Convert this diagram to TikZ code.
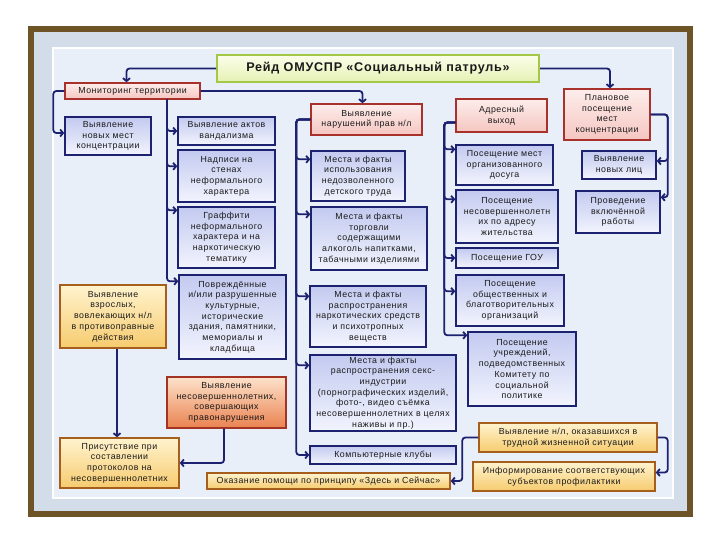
\documentclass[tikz,border=0pt]{standalone}
\usepackage{fontspec}
\setmainfont{Liberation Sans}[LetterSpace=6]
\usetikzlibrary{arrows.meta}
\definecolor{navy}{HTML}{1C2270}
\definecolor{framebrown}{HTML}{6E5326}
\definecolor{backblue}{HTML}{D3DDEA}
\definecolor{panelblue}{HTML}{E9EFF8}
\definecolor{lavtop}{HTML}{C3CAF0}
\definecolor{lavbot}{HTML}{F2F4FD}
\definecolor{pinkedge}{HTML}{A8322B}
\definecolor{pinktop}{HTML}{FDEDEB}
\definecolor{pinkbot}{HTML}{F5C6C1}
\definecolor{ochreedge}{HTML}{A65E1C}
\definecolor{ochretop}{HTML}{FFF3CE}
\definecolor{ochrebot}{HTML}{F6CB6E}
\definecolor{rustedge}{HTML}{A33322}
\definecolor{rusttop}{HTML}{FDE2CB}
\definecolor{rustbot}{HTML}{EA8250}
\definecolor{limeedge}{HTML}{A3C845}
\definecolor{limetop}{HTML}{FBFEEA}
\definecolor{limebot}{HTML}{E5F1B4}
\definecolor{ink}{HTML}{1A1A1A}

\begin{document}
\begin{tikzpicture}[x=1pt, y=-1pt,
  >={Straight Barb[length=3pt, width=7pt]},
  cell/.style={line width=1.4pt, align=center, inner sep=1.5pt, text=ink,
    font=\fontsize{8.8}{10.7}\selectfont},
  boxsize/.style 2 args={minimum width=#1pt, minimum height=#2pt},
  bluecell/.style={cell, draw=navy, top color=lavtop, bottom color=lavbot},
  pinkcell/.style={cell, draw=pinkedge, top color=pinktop, bottom color=pinkbot},
  ochrecell/.style={cell, draw=ochreedge, top color=ochretop, bottom color=ochrebot},
  rustcell/.style={cell, draw=rustedge, top color=rusttop, bottom color=rustbot},
  link/.style={->, draw=navy, line width=1.8pt, rounded corners=3pt},
]
\useasboundingbox (0,0) rectangle (720,540);

% Frame
\fill[white] (0,0) rectangle (720,540);
\draw[framebrown, line width=6.5pt, fill=backblue] (31,29) rectangle (690,514);
\draw[white, line width=1.5pt, fill=panelblue] (53,48) rectangle (673,498);

% Title
\node[cell, draw=limeedge, line width=2pt, top color=limetop, bottom color=limebot,
      boxsize={322}{27}, font=\fontsize{12.6}{14}\selectfont\bfseries]
  (title) at (378,68.5) {Рейд ОМУСПР «Социальный патруль»};

% =============================================
% Left: monitoring
% =============================================
\node[pinkcell, boxsize={135}{16}] (mon) at (132.5,91) {Мониторинг территории};
\node[bluecell, boxsize={86}{38}] (newpl) at (108,136)
  {Выявление\\новых мест\\концентрации};
\node[bluecell, boxsize={97}{28}] (vand) at (226.5,131)
  {Выявление актов\\вандализма};
\node[bluecell, boxsize={97}{52}] (nadp) at (226.5,176)
  {Надписи на\\стенах\\неформального\\характера};
\node[bluecell, boxsize={97}{61}] (graf) at (226.5,237.5)
  {Граффити\\неформального\\характера и на\\наркотическую\\тематику};
\node[bluecell, boxsize={107}{84}] (povr) at (232.5,317)
  {Повреждённые\\и/или разрушенные\\культурные,\\исторические\\здания, памятники,\\мемориалы и\\кладбища};
\node[ochrecell, boxsize={106}{63}] (adult) at (113,316.5)
  {Выявление\\взрослых,\\вовлекающих н/л\\в противоправные\\действия};
\node[rustcell, boxsize={119}{51}] (minor) at (226.5,402.5)
  {Выявление\\несовершеннолетних,\\совершающих\\правонарушения};
\node[ochrecell, boxsize={119}{50}] (prot) at (119.5,463)
  {Присутствие при\\составлении\\протоколов на\\несовершеннолетних};

% =============================================
% Middle: rights of minors
% =============================================
\node[pinkcell, boxsize={111}{31}] (rights) at (366.5,119.5)
  {Выявление\\нарушений прав н/л};
\node[bluecell, boxsize={94}{50}] (labor) at (358,176)
  {Места и факты\\использования\\недозволенного\\детского труда};
\node[bluecell, boxsize={116}{63}] (alco) at (369,238.5)
  {Места и факты\\торговли\\содержащими\\алкоголь напитками,\\табачными изделиями};
\node[bluecell, boxsize={116}{61}] (drug) at (368,316.5)
  {Места и факты\\распространения\\наркотических средств\\и психотропных\\веществ};
\node[bluecell, boxsize={146}{76}] (sex) at (383,393)
  {Места и факты\\распространения секс-\\индустрии\\(порнографических изделий,\\фото-, видео съёмка\\несовершеннолетних в целях\\наживы и пр.)};
\node[bluecell, boxsize={146}{18}] (clubs) at (383,455) {Компьютерные клубы};
\node[ochrecell, boxsize={243}{16}] (help) at (328.5,481)
  {Оказание помощи по принципу «Здесь и Сейчас»};

% =============================================
% Right-middle: address visits
% =============================================
\node[pinkcell, boxsize={91}{33}] (addr) at (501.5,115.5) {Адресный\\выход};
\node[bluecell, boxsize={97}{40}] (dosug) at (504.5,165)
  {Посещение мест\\организованного\\досуга};
\node[bluecell, boxsize={102}{53}] (adres) at (507,216.5)
  {Посещение\\несовершеннолетн\\их по адресу\\жительства};
\node[bluecell, boxsize={102}{20}] (gou) at (507,258) {Посещение ГОУ};
\node[bluecell, boxsize={108}{51}] (obsch) at (510,300.5)
  {Посещение\\общественных и\\благотворительных\\организаций};
\node[bluecell, boxsize={108}{74}] (uchr) at (522,369)
  {Посещение\\учреждений,\\подведомственных\\Комитету по\\социальной\\политике};

% =============================================
% Right: planned visits
% =============================================
\node[pinkcell, boxsize={86}{51}] (plan) at (607,114.5)
  {Плановое\\посещение\\мест\\концентрации};
\node[bluecell, boxsize={74}{28}] (newlc) at (619,165) {Выявление\\новых лиц};
\node[bluecell, boxsize={84}{42}] (prov) at (618,212)
  {Проведение\\включённой\\работы};
\node[ochrecell, boxsize={178}{29}] (hard) at (568,437.5)
  {Выявление н/л, оказавшихся в\\трудной жизненной ситуации};
\node[ochrecell, boxsize={182}{29}] (info) at (564,476.5)
  {Информирование соответствующих\\субъектов профилактики};

% =============================================
% Arrows
% =============================================

% Title -> branches
\draw[link] (title.west) -| ([xshift=-6pt]mon.north);
\draw[link] (title.east) -| ([xshift=3pt]plan.north);

% Monitoring
\draw[link] (mon.east) -| ([xshift=-4pt]rights.north);
\draw[link] (mon.west) -- ++(-11,0) |- ([yshift=3pt]newpl.west);
\draw[link] ([xshift=34.5pt]mon.south) |- (vand.west);
\draw[link] ([xshift=34.5pt]mon.south) |- ([yshift=-17pt]nadp.north west);
\draw[link] ([xshift=34.5pt]mon.south) |- ([yshift=-4pt]graf.north west);
\draw[link] ([xshift=34.5pt]mon.south) |- ([yshift=-7pt]povr.north west);

% Protocols
\draw[link] ([xshift=4pt]adult.south) -- ([xshift=-2.5pt]prot.north);
\draw[link] ([xshift=-2.5pt]minor.south) |- (prot.east);

% Rights of minors
\draw[link] (rights.west) -- ++(-14,0) |- ([yshift=-9pt]labor.north west);
\draw[link] (rights.west) -- ++(-14,0) |- ([yshift=-8pt]alco.north west);
\draw[link] (rights.west) -- ++(-14,0) |- ([yshift=-11pt]drug.north west);
\draw[link] (rights.west) -- ++(-14,0) |- ([yshift=-11pt]sex.north west);
\draw[link] (rights.west) -- ++(-14,0) |- (clubs.west);

% Address visits
\draw[link] ([yshift=-7pt]addr.west) -- ++(-11,0) |- ([yshift=-5pt]dosug.north west);
\draw[link] ([yshift=-7pt]addr.west) -- ++(-11,0) |- ([yshift=-10pt]adres.north west);
\draw[link] ([yshift=-7pt]addr.west) -- ++(-11,0) |- (gou.west);
\draw[link] ([yshift=-7pt]addr.west) -- ++(-11,0) |- ([yshift=-17pt]obsch.north west);
\draw[link] ([yshift=-7pt]addr.west) -- ++(-11,0) |- ([yshift=-4pt]uchr.north west);

% Planned visits
\draw[link] (plan.east) -- ++(17,0) |- ([yshift=4pt]newlc.east);
\draw[link] (plan.east) -- ++(17,0) |- ([yshift=-7pt]prov.north east);

% Hard situation
\draw[link] (hard.east) -- ++(10,0) |- ([yshift=4pt]info.east);
\draw[link] (hard.west) -- ++(-16,0) |- (help.east);

\end{tikzpicture}
\end{document}
